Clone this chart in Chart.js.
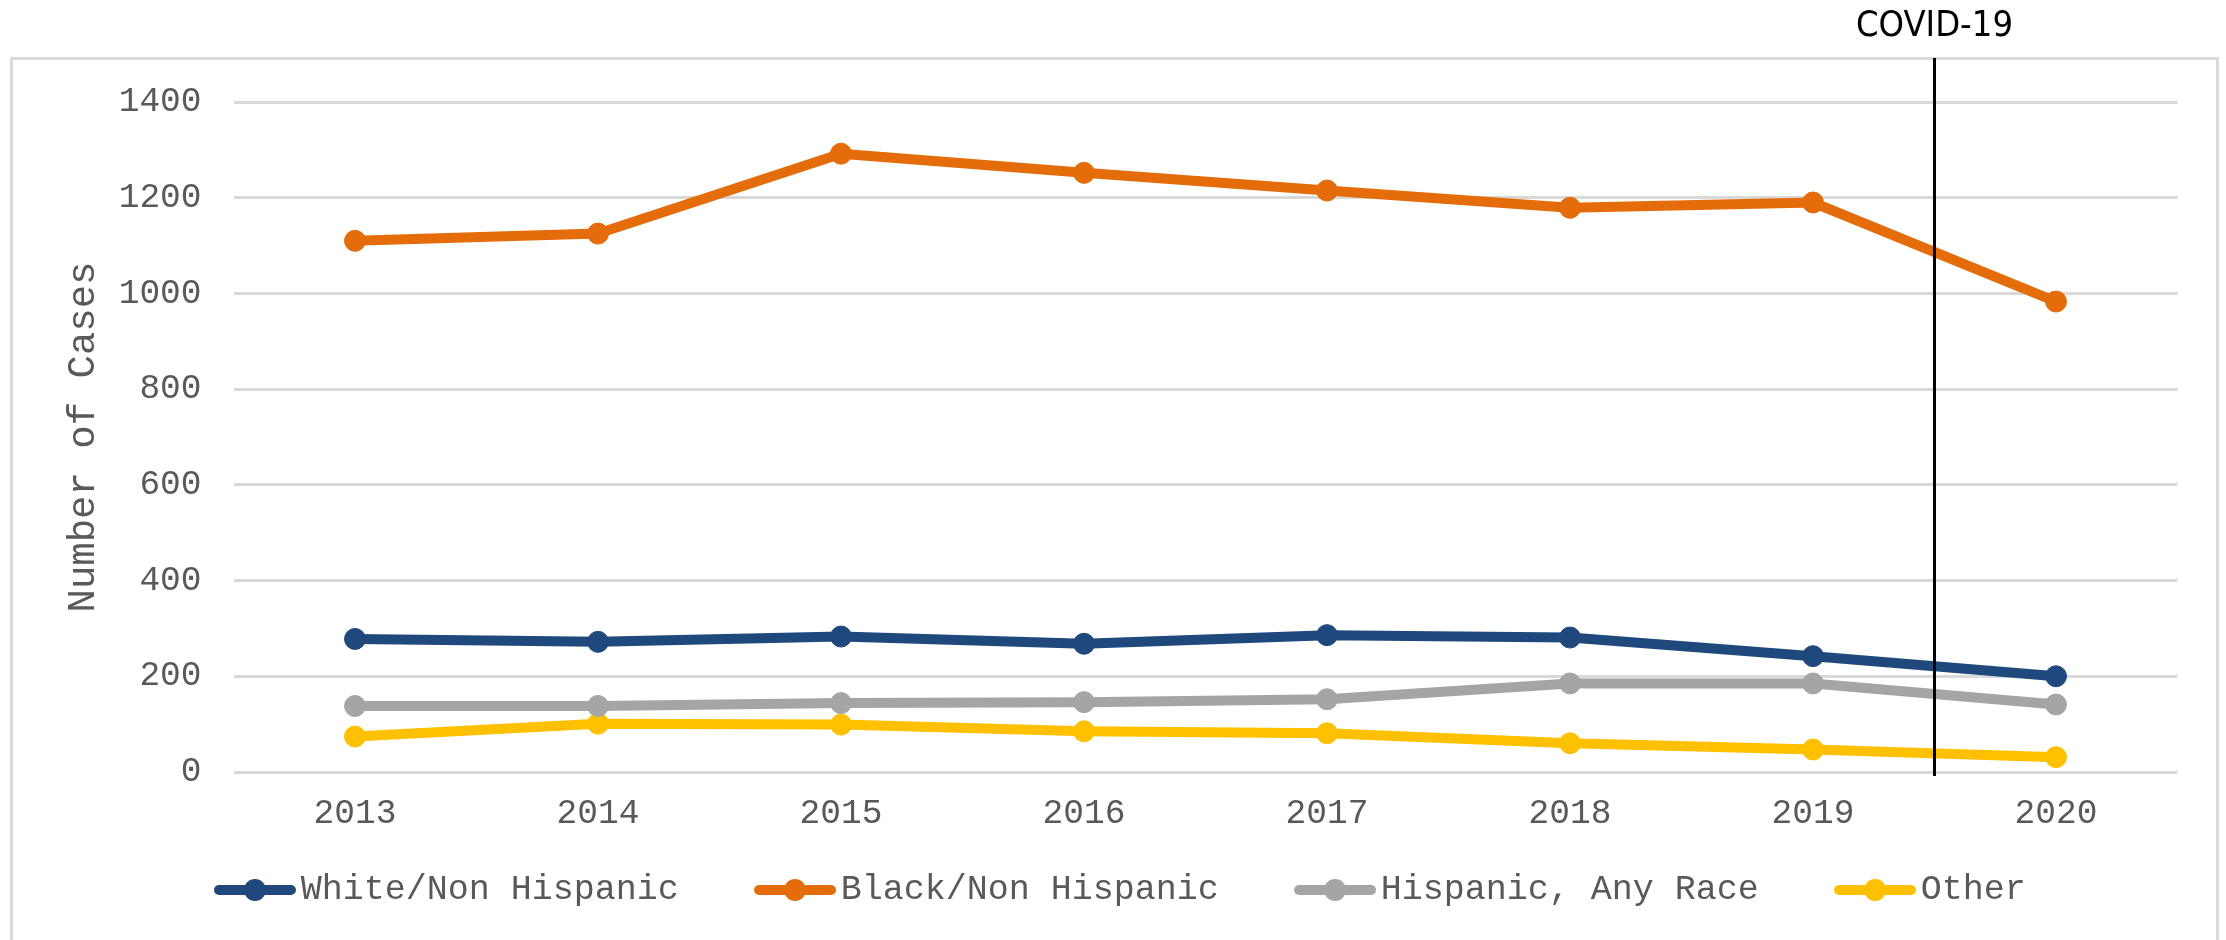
<!DOCTYPE html>
<html>
<head>
<meta charset="utf-8">
<title>Number of Cases by Race/Ethnicity, 2013–2020</title>
<script src="https://cdn.jsdelivr.net/npm/chart.js@4.4.1/dist/chart.umd.min.js"></script>
<style>
  html, body { margin: 0; padding: 0; background: #fff; }
  #wrap { position: relative; width: 2226px; height: 940px; overflow: hidden; }
  /* light grey frame round the chart; its bottom edge falls below the picture */
  #frame { position: absolute; left: 10px; top: 57px; width: 2209px; height: 1000px;
           box-sizing: border-box; border: 3px solid #d9d9d9; }
  #chart { position: absolute; left: 0; top: 0; }
</style>
</head>
<body>
<div id="wrap">
  <div id="frame"></div>
  <canvas id="chart" width="2226" height="940"></canvas>
</div>
<script>
// ── Data ───────────────────────────────────────────────────────────────────
const years = ['2013', '2014', '2015', '2016', '2017', '2018', '2019', '2020'];

const whiteNonHispanic = [278, 272, 283, 268, 286, 281, 242, 200];
const blackNonHispanic = [1110, 1125, 1292, 1252, 1215, 1179, 1190, 983];
const hispanicAnyRace  = [138, 138, 144, 146, 152, 185, 185, 141];
const otherRace        = [74, 101, 99, 85, 81, 60, 47, 31];

const seriesNames  = ['White/Non Hispanic', 'Black/Non Hispanic', 'Hispanic, Any Race', 'Other'];
const seriesColors = ['#1f497d', '#e46c0a', '#a5a5a5', '#ffc000'];

const yMax = 1400;
const yStep = 200;
const yTitle = 'Number of Cases';

// vertical marker drawn between these two years
const covidLabel = 'COVID-19';
const covidAfter = '2019';

// ── Styling ────────────────────────────────────────────────────────────────
const MONO = "'Liberation Mono', 'Courier New', monospace";
const TEXT_GREY = '#595959';
const GRID_GREY = '#d9d9d9';

// legend swatch: thick line with a round marker; left part of the image is
// left blank so the swatch sits close to its text
function makeSwatch(color) {
  const c = document.createElement('canvas');
  c.width = 140; c.height = 24;
  const g = c.getContext('2d');
  g.strokeStyle = color;
  g.lineWidth = 10;
  g.lineCap = 'round';
  g.beginPath(); g.moveTo(63, 12); g.lineTo(135, 12); g.stroke();
  g.fillStyle = color;
  g.beginPath(); g.arc(99, 12, 11, 0, Math.PI * 2); g.fill();
  return c;
}
const swatches = seriesColors.map(makeSwatch);

const seriesData = [whiteNonHispanic, blackNonHispanic, hispanicAnyRace, otherRace];
const datasets = seriesNames.map((name, i) => ({
  label: name,
  data: seriesData[i],
  borderColor: seriesColors[i],
  backgroundColor: seriesColors[i],
  pointBackgroundColor: seriesColors[i],
  pointBorderColor: seriesColors[i],
  borderWidth: 10,
  borderJoinStyle: 'round',
  pointRadius: 10.5,
  pointBorderWidth: 1,
  tension: 0,
}));

// ── COVID-19 marker ────────────────────────────────────────────────────────
const covidMarker = {
  id: 'covidMarker',
  afterDatasetsDraw(chart) {
    const { ctx, chartArea, scales: { x } } = chart;
    const i = years.indexOf(covidAfter);
    const px = (x.getPixelForValue(i) + x.getPixelForValue(i + 1)) / 2;
    ctx.save();
    ctx.strokeStyle = '#000';
    ctx.lineWidth = 3;
    ctx.beginPath();
    ctx.moveTo(px, 58);
    ctx.lineTo(px, chartArea.bottom + 4);
    ctx.stroke();
    ctx.fillStyle = '#000';
    ctx.font = "36px 'Liberation Sans Narrow', 'DejaVu Sans Condensed', 'Liberation Sans', sans-serif";
    ctx.textAlign = 'center';
    ctx.textBaseline = 'alphabetic';
    ctx.fillText(covidLabel, px, 36);
    ctx.restore();
  }
};

// ── Chart ──────────────────────────────────────────────────────────────────
new Chart(document.getElementById('chart'), {
  type: 'line',
  data: { labels: years, datasets },
  plugins: [covidMarker],
  options: {
    responsive: false,
    animation: false,
    layout: { padding: { top: 102, left: 17, right: 48.5, bottom: 22.5 } },
    plugins: {
      tooltip: { enabled: false },
      legend: {
        position: 'bottom',
        labels: {
          usePointStyle: true,
          pointStyleWidth: 114.5,
          padding: 30,
          color: TEXT_GREY,
          font: { family: MONO, size: 35 },
          generateLabels(chart) {
            const items = Chart.defaults.plugins.legend.labels.generateLabels(chart);
            items.forEach((it, i) => { it.pointStyle = swatches[i]; it.fontColor = TEXT_GREY; });
            return items;
          }
        }
      }
    },
    scales: {
      x: {
        offset: true,
        grid: { display: false },
        border: { display: false },
        ticks: { color: TEXT_GREY, font: { family: MONO, size: 34.5 }, padding: 13, maxRotation: 0 },
        afterFit(scale) { scale.height = 70.5; }
      },
      y: {
        min: 0,
        max: yMax,
        grid: { color: GRID_GREY, lineWidth: 3, drawTicks: false },
        border: { display: false },
        ticks: {
          stepSize: yStep,
          color: TEXT_GREY,
          font: { family: MONO, size: 34.5 },
          padding: 32,
          callback: v => String(v)
        },
        title: {
          display: true,
          text: yTitle,
          color: TEXT_GREY,
          font: { family: MONO, size: 39 },
          padding: { top: 43.5, bottom: 0 }
        },
        afterFit(scale) { scale.width = 216.5; }
      }
    }
  }
});
</script>
</body>
</html>
